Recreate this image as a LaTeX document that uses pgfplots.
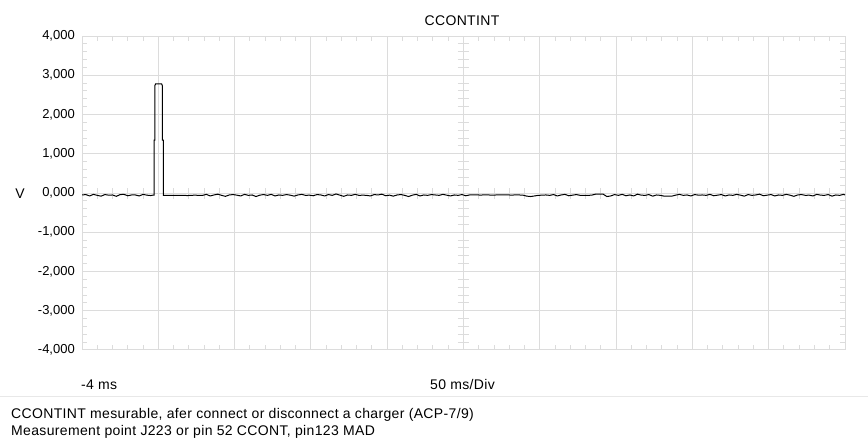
\documentclass[border=0pt]{standalone}
\usepackage{fontspec}
\setmainfont{Liberation Sans}
\newfontfamily\lbl{Liberation Sans}[LetterSpace=2.5]
\usepackage{pgfplots}
\pgfplotsset{compat=1.18}
\definecolor{gridgray}{RGB}{220,220,220}
\definecolor{sepgray}{RGB}{232,232,232}

\begin{document}
\fontsize{13}{15}\selectfont
\begin{tikzpicture}[x=1pt,y=1pt]
\useasboundingbox (0,0) rectangle (868,439);

% centre crosshair with its small ticks (scope axis)
\begin{axis}[
  at={(82pt,89pt)}, anchor=south west,
  width=763pt, height=314pt, scale only axis,
  xmin=-250, xmax=250, ymin=-4, ymax=4,
  axis lines=middle,
  axis line style={gridgray, line width=1pt, -},
  xtick={-250,-200,...,250}, ytick={-4,-3,...,4},
  minor x tick num=4, minor y tick num=4,
  xticklabels=\empty, yticklabels=\empty,
  major tick length=0pt, minor tick length=11pt,
  tick align=center,
  tick style={gridgray, line width=1pt},
]
\addplot[draw=none] coordinates {(0,0)};
\end{axis}

\begin{axis}[
  at={(82pt,89pt)}, anchor=south west,
  width=763pt, height=314pt, scale only axis,
  xmin=-4, xmax=496, ymin=-4, ymax=4,
  xtick={-4,46,...,496}, ytick={-4,-3,...,4},
  minor x tick num=4, minor y tick num=4,
  xticklabels=\empty,
  yticklabels={{-4,000},{-3,000},{-2,000},{-1,000},{0,000},{1,000},{2,000},{3,000},{4,000}},
  yticklabel style={font=\fontsize{13}{15}\selectfont, inner sep=0pt, xshift=-7pt},
  tick align=inside,
  major tick length=0pt, minor tick length=5pt,
  tick style={gridgray, line width=1pt},
  axis line style={gridgray, line width=1pt},
  grid=major,
  major grid style={gridgray, line width=1pt},
]
\addplot[black, line width=1pt, mark=none] coordinates {
  (-4,-0.050) (-1.5,-0.040) (1,-0.075) (3.5,-0.035) (6,-0.060) (8.5,-0.080)
  (11,-0.040) (13.5,-0.055) (16,-0.050) (18.5,-0.085) (21,-0.040) (23.5,-0.035)
  (26,-0.070) (28.5,-0.050) (31,-0.050) (33.5,-0.075) (36,-0.035) (38.5,-0.055)
  (41,-0.065) (42.5,-0.055) (43.2,-0.055)
  (43.2,1.35) (43.8,1.35) (43.8,2.74) (44.2,2.78) (48.2,2.78) (48.6,2.74)
  (48.6,1.35) (49.3,1.35) (49.3,-0.060)
  (50,-0.060) (52.5,-0.060) (55,-0.062) (57.5,-0.060) (60,-0.058) (62.5,-0.060)
  (65,-0.065) (67.5,-0.060) (70,-0.055) (72.5,-0.060) (75,-0.060)
  (77.5,-0.035) (80,-0.075) (82.5,-0.050) (85,-0.030) (87.5,-0.060) (90,-0.085)
  (92.5,-0.050) (95,-0.040) (97.5,-0.055) (100,-0.075) (102.5,-0.035) (105,-0.060)
  (107.5,-0.050) (110,-0.090) (112.5,-0.055) (115,-0.040) (117.5,-0.060) (120,-0.035)
  (122.5,-0.075) (125,-0.050) (127.5,-0.060) (130,-0.040) (132.5,-0.055) (135,-0.080)
  (137.5,-0.050) (140,-0.035) (142.5,-0.060) (145,-0.055) (147.5,-0.070) (150,-0.040)
  (152.5,-0.050) (155,-0.075) (157.5,-0.040) (160,-0.060) (162.5,-0.025) (165,-0.055)
  (167.5,-0.085) (170,-0.050) (172.5,-0.060) (175,-0.035) (177.5,-0.060) (180,-0.055)
  (182.5,-0.060) (185,-0.075) (187.5,-0.040) (190,-0.050) (192.5,-0.030) (195,-0.070)
  (197.5,-0.055) (200,-0.080) (202.5,-0.050) (205,-0.040) (207.5,-0.060) (210,-0.090)
  (212.5,-0.055) (215,-0.035) (217.5,-0.075) (220,-0.050) (222.5,-0.060) (225,-0.040)
  (227.5,-0.050) (230,-0.060) (232.5,-0.035) (235,-0.055) (237.5,-0.075) (240,-0.050)
  (242.5,-0.060) (245,-0.040) (247.5,-0.070) (250,-0.050)
  (252.5,-0.050) (255,-0.050) (257.5,-0.052) (260,-0.048) (262.5,-0.050) (265,-0.055)
  (267.5,-0.050) (270,-0.050) (272.5,-0.048) (275,-0.050) (277.5,-0.052) (280,-0.050)
  (282.5,-0.050) (285,-0.055) (287.5,-0.080) (290,-0.090) (292.5,-0.075) (295,-0.060)
  (297.5,-0.055) (300,-0.050)
  (302.5,-0.060) (305,-0.040) (307.5,-0.075) (310,-0.050) (312.5,-0.035) (315,-0.070)
  (317.5,-0.055) (320,-0.040) (322.5,-0.060) (325,-0.060) (327.5,-0.060) (330,-0.055)
  (332.5,-0.030) (335,-0.030) (337.5,-0.030) (340,-0.090) (342.5,-0.075) (345,-0.040)
  (347.5,-0.060) (350,-0.035) (352.5,-0.070) (355,-0.050) (357.5,-0.075) (360,-0.030)
  (362.5,-0.055) (365,-0.060) (367.5,-0.040) (370,-0.080) (372.5,-0.050) (375,-0.060)
  (377.5,-0.080) (380,-0.080) (382.5,-0.080) (385,-0.055) (387.5,-0.035) (390,-0.060)
  (392.5,-0.050) (395,-0.075) (397.5,-0.040) (400,-0.055)
  (402.5,-0.050) (405,-0.060) (407.5,-0.035) (410,-0.070) (412.5,-0.055) (415,-0.040)
  (417.5,-0.075) (420,-0.050) (422.5,-0.060) (425,-0.035) (427.5,-0.055) (430,-0.080)
  (432.5,-0.040) (435,-0.060) (437.5,-0.050) (440,-0.030) (442.5,-0.070) (445,-0.055)
  (447.5,-0.040) (450,-0.075) (452.5,-0.050) (455,-0.060) (457.5,-0.035) (460,-0.055)
  (462.5,-0.085) (465,-0.050) (467.5,-0.040) (470,-0.060) (472.5,-0.055) (475,-0.075)
  (477.5,-0.035) (480,-0.055) (482.5,-0.060) (485,-0.040) (487.5,-0.080) (490,-0.050)
  (492.5,-0.060) (495,-0.035) (496,-0.050)
};
\end{axis}

\begin{scope}[every node/.style={font=\lbl\fontsize{14}{17}\selectfont, inner sep=0pt}]
\node[anchor=base] at (462,413.5) {CCONTINT};
\node at (20,245) {V};
\node[anchor=base west] at (81,49) {-4 ms};
\node[anchor=base] at (462.5,49) {50 ms/Div};
\node[anchor=base west] at (11,20)
  {CCONTINT mesurable, afer connect or disconnect a charger (ACP-7/9)};
\node[anchor=base west] at (11,3)
  {Measurement point J223 or pin 52 CCONT, pin123 MAD};
\end{scope}
\draw[sepgray, line width=1pt] (0,42.3) -- (868,42.3);
\end{tikzpicture}
\end{document}
